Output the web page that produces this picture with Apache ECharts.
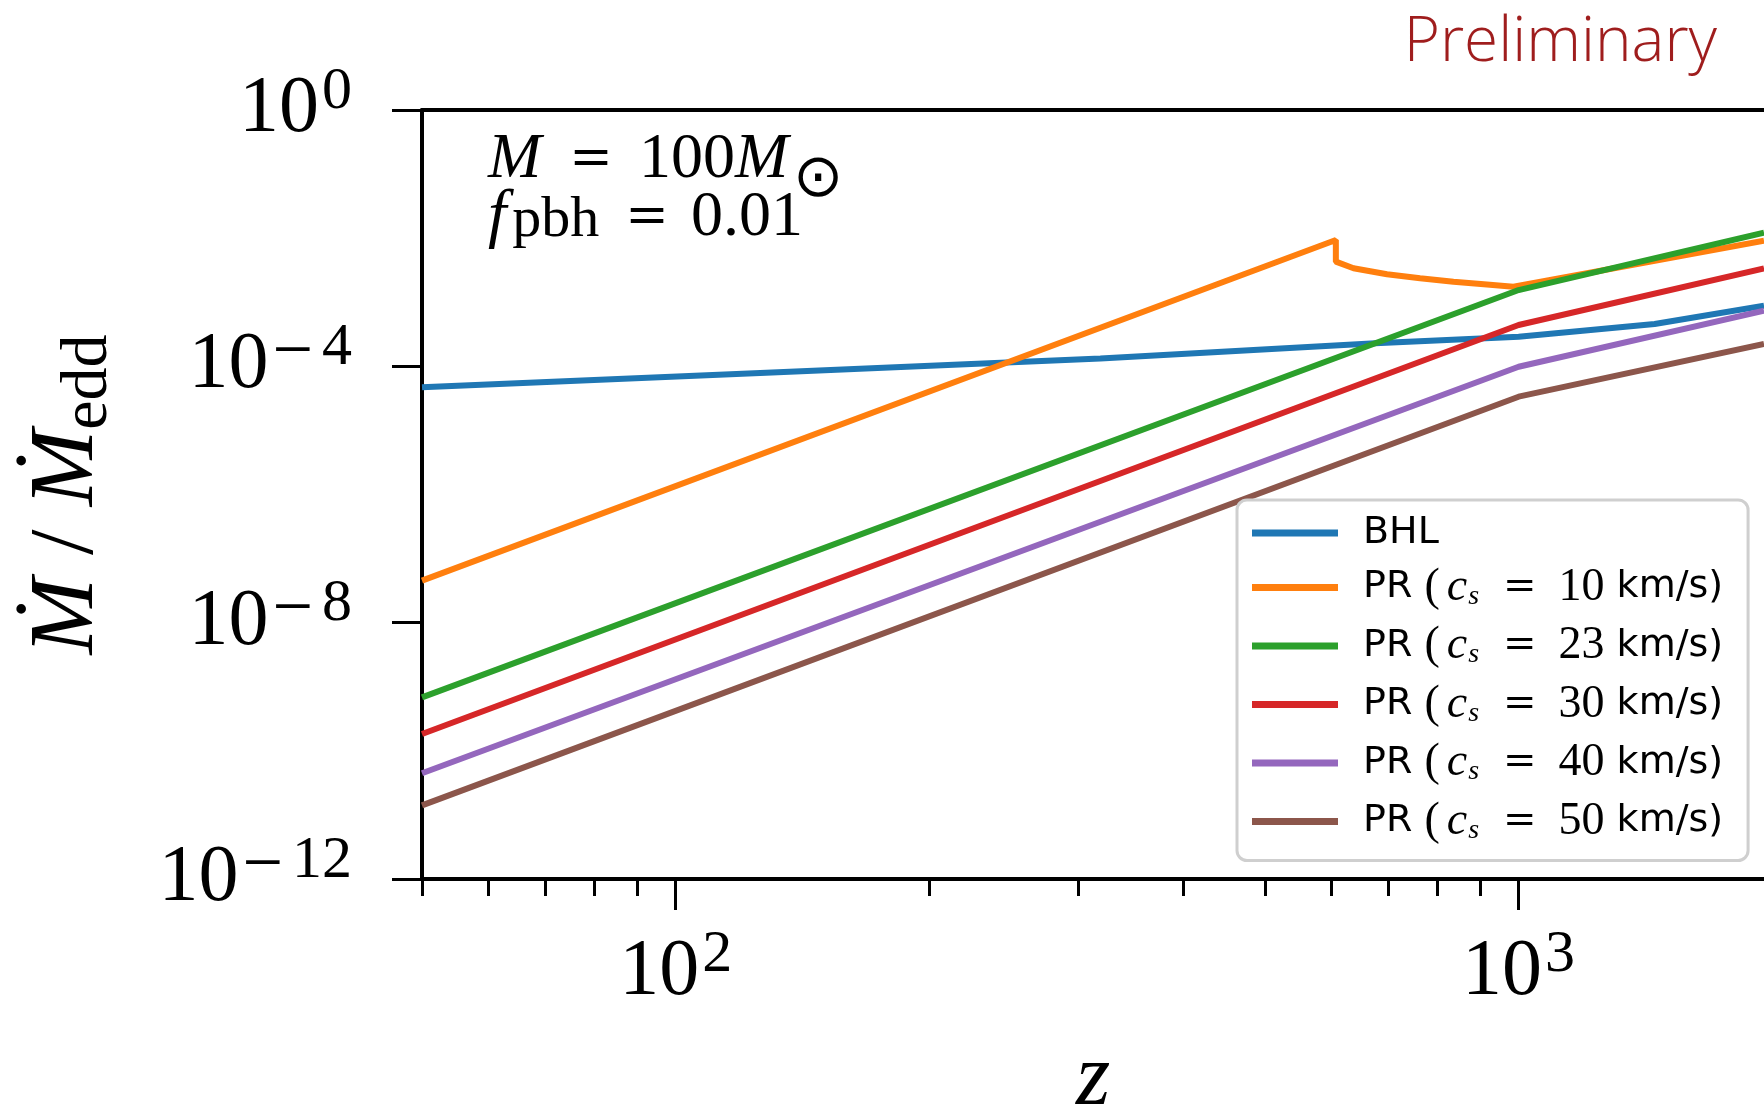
<!DOCTYPE html>
<html><head><meta charset="utf-8">
<script src="https://cdn.jsdelivr.net/npm/echarts@6/dist/echarts.min.js"></script>
<style>html,body{margin:0;padding:0;background:#fff}#c{width:1764px;height:1113px}</style>
</head><body><div id="c"></div>
<script>
// ---- data ----
const zBHL = [50, 128, 319, 676, 1000, 1450, 1955];
const mBHL = [4.71e-5, 7.96e-5, 1.33e-4, 2.29e-4, 2.90e-4, 4.57e-4, 8.81e-4];
const z10 = [50, 607, 607, 637, 698, 764, 837, 917, 986, 1955];
const m10 = [4.52e-8, 9.35e-3, 4.30e-3, 3.39e-3, 2.73e-3, 2.36e-3, 2.09e-3, 1.90e-3, 1.75e-3, 9.14e-3];
const zPR = [50, 1000, 1955];
const m23 = [6.82e-10, 1.55e-3, 1.22e-2];
const m30 = [1.83e-10, 4.42e-4, 3.38e-3];
const m40 = [4.47e-11, 9.86e-5, 7.38e-4];
const m50 = [1.41e-11, 3.36e-5, 2.23e-4];
const soundSpeeds = [10, 23, 30, 40, 50];
const seriesNames = ['BHL', 'PR (c_s = 10 km/s)', 'PR (c_s = 23 km/s)', 'PR (c_s = 30 km/s)', 'PR (c_s = 40 km/s)', 'PR (c_s = 50 km/s)'];
const colors = ['#1f77b4', '#ff7f0e', '#2ca02c', '#d62728', '#9467bd', '#8c564b'];
const xMajorTicks = [100, 1000];
const xMinorTicks = [50, 60, 70, 80, 90, 200, 300, 400, 500, 600, 700, 800, 900];
const yTicks = [1e-12, 1e-8, 1e-4, 1];
const xRange = [50, 1955];
const yRange = [1e-12, 1];

const SERIF = '"Liberation Serif", "DejaVu Serif", serif';
const DSERIF = '"DejaVu Serif", serif';
const SANS = '"DejaVu Sans", sans-serif';

function pair(zs, ms) { return zs.map((z, i) => [z, ms[i]]); }
const seriesData = [pair(zBHL, mBHL), pair(z10, m10), pair(zPR, m23), pair(zPR, m30), pair(zPR, m40), pair(zPR, m50)];

function powLabel(v) {
  const e = Math.round(Math.log10(v));
  return e < 0 ? '{b|10}{mn|\u2212}{s|' + (-e) + '}' : '{b|10}{s|' + e + '}';
}
const powRich = {
  b: { fontFamily: SERIF, fontSize: 80, lineHeight: 96, color: '#000' },
  mn: { fontFamily: SERIF, fontSize: 72, lineHeight: 60, color: '#000', verticalAlign: 'top', padding: [0, 6, 0, 4] },
  s: { fontFamily: SERIF, fontSize: 60, lineHeight: 60, color: '#000', verticalAlign: 'top', padding: [0, 0, 0, 3] }
};

const legendText = {};
seriesNames.forEach((n, i) => {
  legendText[n] = i === 0 ? '{a|BHL}' :
    '{a|PR }{p|(}{c|c}{sb|s}{eq|=}{n|' + soundSpeeds[i - 1] + '}{a| km/s)}';
});

const chart = echarts.init(document.getElementById('c'), null, { renderer: 'canvas' });
chart.setOption({
  animation: false,
  backgroundColor: '#fff',
  title: {
    text: 'Preliminary', right: 42, top: 7,
    textStyle: { color: '#9f1d1d', fontSize: 62, fontWeight: 300, fontFamily: '"Open Sans", "Liberation Sans", sans-serif' }
  },
  grid: { left: 422, top: 110, right: 0, bottom: 234, containLabel: false, outerBoundsMode: 'none' },
  xAxis: [
    {
      type: 'log', logBase: 10, min: xRange[0], max: xRange[1], position: 'bottom',
      axisLine: { show: true, lineStyle: { color: '#000', width: 4 } },
      axisTick: { show: true, inside: false, length: 31, lineStyle: { color: '#000', width: 3 }, customValues: xMajorTicks },
      axisLabel: { show: true, margin: 46, customValues: xMajorTicks, formatter: powLabel, rich: powRich },
      splitLine: { show: false },
      name: 'z', nameLocation: 'middle', nameGap: 158,
      nameTextStyle: { fontFamily: SERIF, fontStyle: 'italic', fontSize: 88, color: '#000' }
    },
    {
      type: 'log', logBase: 10, min: xRange[0], max: xRange[1], position: 'bottom',
      axisLine: { show: false },
      axisTick: { show: true, inside: false, length: 17, lineStyle: { color: '#000', width: 3 }, customValues: xMinorTicks },
      axisLabel: { show: false },
      splitLine: { show: false }
    },
    {
      type: 'log', logBase: 10, min: xRange[0], max: xRange[1], position: 'top',
      axisLine: { show: true, lineStyle: { color: '#000', width: 4 } },
      axisTick: { show: false }, axisLabel: { show: false }, splitLine: { show: false }
    }
  ],
  yAxis: {
    type: 'log', logBase: 10, min: yRange[0], max: yRange[1],
    axisLine: { show: true, lineStyle: { color: '#000', width: 4 } },
    axisTick: { show: true, inside: false, length: 30, lineStyle: { color: '#000', width: 3 }, customValues: yTicks },
    axisLabel: { show: true, margin: 70, customValues: yTicks, formatter: powLabel, rich: powRich },
    splitLine: { show: false },
    name: '{m|\u1E40}{r| / }{m|\u1E40}{e|edd}', nameLocation: 'middle', nameGap: 300, nameRotate: 90,
    nameTextStyle: {
      rich: {
        m: { fontFamily: SERIF, fontStyle: 'italic', fontSize: 92, lineHeight: 108, color: '#000' },
        r: { fontFamily: SERIF, fontSize: 92, lineHeight: 108, color: '#000' },
        e: { fontFamily: SERIF, fontSize: 66, lineHeight: 76, color: '#000', verticalAlign: 'bottom' }
      }
    }
  },
  legend: {
    orient: 'vertical', left: 1237, top: 500,
    data: seriesNames.map(n => ({ name: n, icon: 'rect' })), selectedMode: false,
    itemWidth: 86, itemHeight: 7, itemGap: 12.5,
    padding: [14, 25, 16, 15],
    backgroundColor: '#fff', borderColor: '#cfcfcf', borderWidth: 3, borderRadius: 10,
    formatter: n => legendText[n],
    textStyle: {
      padding: [0, 0, 0, 20],
      rich: {
        a: { fontFamily: SANS, fontSize: 38, lineHeight: 46, color: '#000' },
        p: { fontFamily: SERIF, fontSize: 46, lineHeight: 46, color: '#000' },
        c: { fontFamily: SERIF, fontStyle: 'italic', fontSize: 46, lineHeight: 46, color: '#000', padding: [0, 0, 0, 7] },
        sb: { fontFamily: SERIF, fontStyle: 'italic', fontSize: 28, lineHeight: 32, color: '#000', verticalAlign: 'bottom', padding: [0, 0, 0, 1] },
        eq: { fontFamily: DSERIF, fontSize: 40, lineHeight: 46, color: '#000', padding: [0, 22, 0, 24] },
        n: { fontFamily: SERIF, fontSize: 46, lineHeight: 46, color: '#000' }
      }
    }
  },
  graphic: [
    {
      type: 'text', left: 488, top: 128, z: 10,
      style: {
        text: '{i|M}{eq|=}{r|100}{i|M}',
        rich: {
          i: { fontFamily: SERIF, fontStyle: 'italic', fontSize: 64, lineHeight: 64, fill: '#000' },
          eq: { fontFamily: DSERIF, fontSize: 52, lineHeight: 64, fill: '#000', padding: [0, 26, 0, 28] },
          r: { fontFamily: SERIF, fontSize: 64, lineHeight: 64, fill: '#000' }
        }
      }
    },
    {
      type: 'text', left: 793, top: 150, z: 10,
      style: { text: '\u2299', fontFamily: SANS, fontSize: 60, fill: '#000' }
    },
    {
      type: 'text', left: 488, top: 185, z: 10,
      style: {
        text: '{i|f}{sb|pbh}{eq|=}{r|0.01}',
        rich: {
          i: { fontFamily: SERIF, fontStyle: 'italic', fontSize: 66, lineHeight: 64, fill: '#000' },
          sb: { fontFamily: SERIF, fontSize: 58, lineHeight: 52, fill: '#000', verticalAlign: 'bottom', padding: [0, 0, 0, 6] },
          eq: { fontFamily: DSERIF, fontSize: 52, lineHeight: 64, fill: '#000', padding: [0, 22, 0, 26] },
          r: { fontFamily: SERIF, fontSize: 64, lineHeight: 64, fill: '#000' }
        }
      }
    }
  ],
  series: seriesNames.map((n, i) => ({
    name: n, type: 'line', xAxisIndex: 0, yAxisIndex: 0,
    data: seriesData[i], symbol: 'none', showSymbol: false, smooth: false,
    lineStyle: { color: colors[i], width: 6 }, itemStyle: { color: colors[i] },
    emphasis: { disabled: true }, clip: true
  }))
});
</script></body></html>
